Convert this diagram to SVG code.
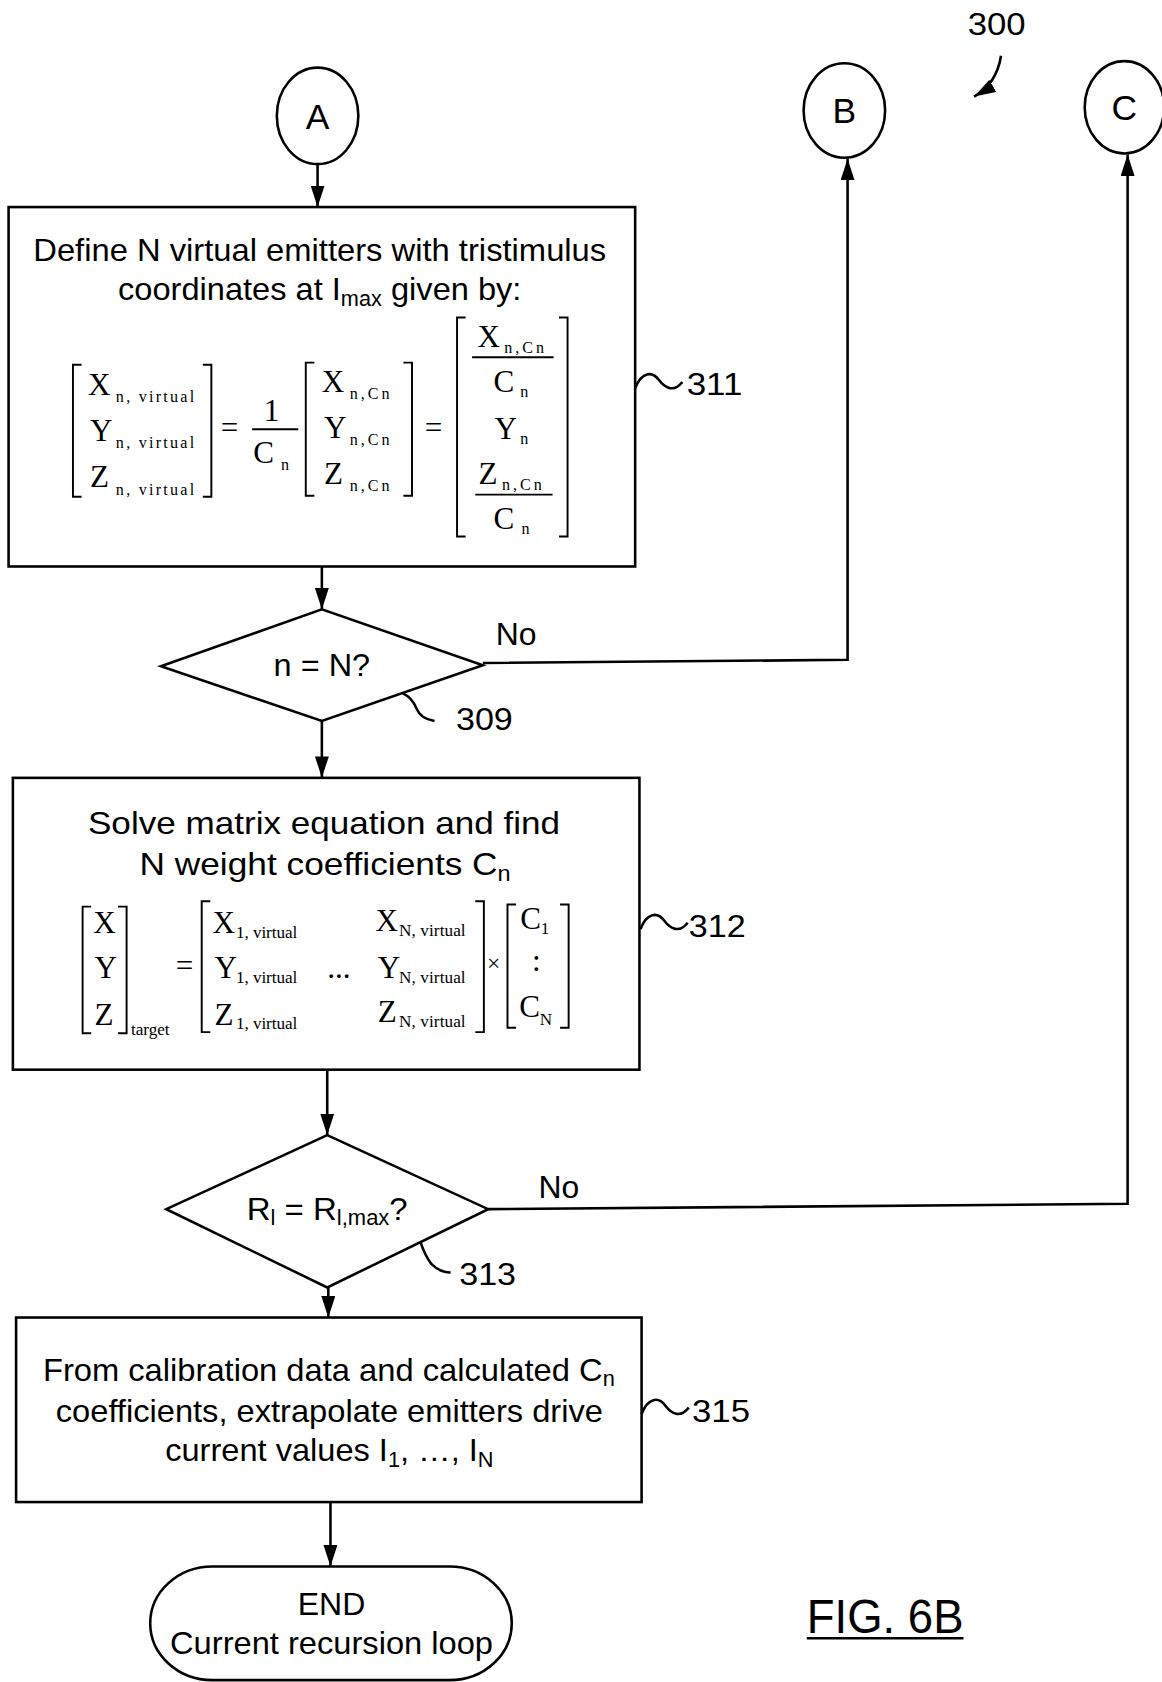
<svg xmlns="http://www.w3.org/2000/svg" width="1162" height="1682" viewBox="0 0 1162 1682">
<style>
.bg{fill:#fff}
.sh{fill:#fff;stroke:#000;stroke-width:2.4}
.ln{fill:none;stroke:#000;stroke-width:2.4}
.br{fill:none;stroke:#000;stroke-width:1.8}
.t{font-family:"Liberation Sans",Arial,sans-serif;font-size:30px;fill:#000}
.c{text-anchor:middle}
.m{font-family:"Liberation Serif","Times New Roman",serif;font-size:29px;fill:#000}
.s{font-family:"Liberation Serif","Times New Roman",serif;font-size:15px;letter-spacing:2px;fill:#000}
.v{font-family:"Liberation Serif","Times New Roman",serif;font-size:16px;fill:#000}
.lt{font-size:33px}
</style>
<defs>
<marker id="ah" markerUnits="userSpaceOnUse" markerWidth="20" markerHeight="13" refX="20" refY="6.5" orient="auto" viewBox="0 0 20 13">
<path d="M0,0 L20,6.5 L0,13 z" fill="#000"/>
</marker>
</defs>
<rect class="bg" x="0" y="0" width="1162" height="1682"/>
<g transform="scale(1.0729)">
<g id="connectors">
<line class="ln" x1="296" y1="153" x2="296" y2="193" marker-end="url(#ah)"/>
<line class="ln" x1="300" y1="528" x2="300" y2="568" marker-end="url(#ah)"/>
<polyline class="ln" points="450,618 790,615 790,148" marker-end="url(#ah)"/>
<line class="ln" x1="300" y1="672" x2="300" y2="725" marker-end="url(#ah)"/>
<line class="ln" x1="305" y1="997" x2="305" y2="1058" marker-end="url(#ah)"/>
<polyline class="ln" points="455,1127 1051,1122 1051,144" marker-end="url(#ah)"/>
<line class="ln" x1="306" y1="1200" x2="306" y2="1228" marker-end="url(#ah)"/>
<line class="ln" x1="308" y1="1400" x2="308" y2="1460" marker-end="url(#ah)"/>
<text class="t" x="462" y="601" textLength="38" lengthAdjust="spacingAndGlyphs">No</text>
<text class="t" x="502" y="1117" textLength="38" lengthAdjust="spacingAndGlyphs">No</text>
</g>
<g id="label-300">
<text class="t c" x="929" y="33" textLength="54" lengthAdjust="spacingAndGlyphs">300</text>
<path class="ln" d="M933,52 Q929,78 908,90" marker-end="url(#ah)"/>
</g>
<g id="node-A">
<ellipse class="sh" cx="296" cy="108" rx="38" ry="45"/>
<text class="t c lt" x="296" y="120">A</text>
</g>
<g id="node-B">
<ellipse class="sh" cx="787" cy="103" rx="38" ry="44"/>
<text class="t c lt" x="787" y="115">B</text>
</g>
<g id="node-C">
<ellipse class="sh" cx="1048" cy="100" rx="37" ry="43"/>
<text class="t c lt" x="1048" y="112">C</text>
</g>
<g id="node-311">
<rect class="sh" x="8" y="193" width="584" height="335"/>
<text class="t c" x="298" y="243" textLength="534" lengthAdjust="spacingAndGlyphs">Define N virtual emitters with tristimulus</text>
<text class="t" x="110" y="280" textLength="376" lengthAdjust="spacingAndGlyphs">coordinates at I<tspan font-size="20" dy="5">max</tspan><tspan dy="-5"> given by:</tspan></text>
<path class="br" d="M76,340 H68 V463 H76 M189,340 H197 V463 H189"/>
<text class="m" x="82" y="368">X</text><text class="s" x="108" y="375" textLength="75">n, virtual</text>
<text class="m" x="84" y="411">Y</text><text class="s" x="108" y="418" textLength="75">n, virtual</text>
<text class="m" x="84" y="454">Z</text><text class="s" x="108" y="461" textLength="75">n, virtual</text>
<text class="m c" x="214" y="408">=</text>
<text class="m c" x="253" y="392">1</text>
<line class="br" x1="235" y1="400" x2="278" y2="400"/>
<text class="m" x="236" y="432">C</text><text class="s" x="262" y="438">n</text>
<path class="br" d="M293,338 H285 V462 H293 M376,338 H384 V462 H376"/>
<text class="m" x="300" y="365">X</text><text class="s" x="326" y="372" textLength="39">n,Cn</text>
<text class="m" x="302" y="408">Y</text><text class="s" x="326" y="415" textLength="39">n,Cn</text>
<text class="m" x="302" y="451">Z</text><text class="s" x="326" y="458" textLength="39">n,Cn</text>
<text class="m c" x="404" y="408">=</text>
<path class="br" d="M434,296 H426 V500 H434 M521,296 H529 V500 H521"/>
<text class="m" x="445" y="323">X</text><text class="s" x="470" y="329" textLength="39">n,Cn</text>
<line class="br" x1="440" y1="333" x2="516" y2="333"/>
<text class="m" x="460" y="365">C</text><text class="s" x="485" y="370">n</text>
<text class="m" x="461" y="409">Y</text><text class="s" x="485" y="414">n</text>
<text class="m" x="446" y="451">Z</text><text class="s" x="468" y="457" textLength="39">n,Cn</text>
<line class="br" x1="443" y1="461" x2="515" y2="461"/>
<text class="m" x="460" y="493">C</text><text class="s" x="486" y="498">n</text>
<path class="ln" d="M592,362 C598,346 608,346 614,354 S628,366 636,356"/>
<text class="t" x="640" y="368" textLength="52" lengthAdjust="spacingAndGlyphs">311</text>
</g>
<g id="node-309">
<polygon class="sh" points="150,621 300,568 450,620 300,672"/>
<text class="t c" x="300" y="630" textLength="90" lengthAdjust="spacingAndGlyphs">n = N?</text>
<path class="ln" d="M375,646 Q384,650 388,660 Q392,670 405,672"/>
<text class="t" x="425" y="680" textLength="53" lengthAdjust="spacingAndGlyphs">309</text>
</g>
<g id="node-312">
<rect class="sh" x="12" y="725" width="584" height="272"/>
<text class="t c" x="302" y="777" textLength="440" lengthAdjust="spacingAndGlyphs">Solve matrix equation and find</text>
<text class="t" x="130" y="816" textLength="346" lengthAdjust="spacingAndGlyphs">N weight coefficients C<tspan font-size="20" dy="5">n</tspan></text>
<path class="br" d="M85,845 H77 V963 H85 M110,845 H118 V963 H110"/>
<text class="m" x="87" y="870">X</text>
<text class="m" x="88" y="912">Y</text>
<text class="m" x="88" y="955">Z</text>
<text class="v" x="122" y="965">target</text>
<text class="m c" x="172" y="910">=</text>
<path class="br" d="M196,840 H188 V962 H196 M443,840 H451 V962 H443"/>
<text class="m" x="198" y="870">X</text><text class="v" x="220" y="874" textLength="57">1, virtual</text>
<text class="m" x="350" y="868">X</text><text class="v" x="372" y="872" textLength="62">N, virtual</text>
<text class="m" x="200" y="912">Y</text><text class="v" x="220" y="916" textLength="57">1, virtual</text>
<text class="m" x="305" y="912">...</text>
<text class="m" x="352" y="912">Y</text><text class="v" x="372" y="916" textLength="62">N, virtual</text>
<text class="m" x="200" y="955">Z</text><text class="v" x="220" y="959" textLength="57">1, virtual</text>
<text class="m" x="352" y="953">Z</text><text class="v" x="372" y="957" textLength="62">N, virtual</text>
<text class="v c" x="460" y="905" style="font-size:22px">×</text>
<path class="br" d="M481,843 H473 V958 H481 M522,843 H530 V958 H522"/>
<text class="m" x="485" y="866">C</text><text class="v" x="504" y="871">1</text>
<text class="m c" x="500" y="905">:</text>
<text class="m" x="484" y="948">C</text><text class="v" x="503" y="955">N</text>
<path class="ln" d="M597,866 C603,850 613,850 619,858 S633,870 641,860"/>
<text class="t" x="642" y="873" textLength="53" lengthAdjust="spacingAndGlyphs">312</text>
</g>
<g id="node-313">
<polygon class="sh" points="155,1127 305,1058 455,1127 305,1200"/>
<text class="t" x="230" y="1137" textLength="150" lengthAdjust="spacingAndGlyphs">R<tspan font-size="20" dy="5">l</tspan><tspan dy="-5"> = R</tspan><tspan font-size="20" dy="5">l,max</tspan><tspan dy="-5">?</tspan></text>
<path class="ln" d="M392,1158 Q396,1170 402,1178 Q410,1186 420,1186"/>
<text class="t" x="428" y="1198" textLength="53" lengthAdjust="spacingAndGlyphs">313</text>
</g>
<g id="node-315">
<rect class="sh" x="15" y="1228" width="583" height="172"/>
<text class="t" x="40" y="1287" textLength="533" lengthAdjust="spacingAndGlyphs">From calibration data and calculated C<tspan font-size="20" dy="5">n</tspan></text>
<text class="t c" x="307" y="1325" textLength="510" lengthAdjust="spacingAndGlyphs">coefficients, extrapolate emitters drive</text>
<text class="t" x="154" y="1362" textLength="306" lengthAdjust="spacingAndGlyphs">current values I<tspan font-size="20" dy="5">1</tspan><tspan dy="-5">, …, I</tspan><tspan font-size="20" dy="5">N</tspan></text>
<path class="ln" d="M598,1318 C604,1302 614,1302 620,1310 S634,1322 642,1312"/>
<text class="t" x="645" y="1325" textLength="54" lengthAdjust="spacingAndGlyphs">315</text>
</g>
<g id="node-end">
<rect class="sh" x="140" y="1460" width="337" height="106" rx="58" ry="53"/>
<text class="t c" x="309" y="1505" textLength="63" lengthAdjust="spacingAndGlyphs">END</text>
<text class="t c" x="309" y="1542" textLength="301" lengthAdjust="spacingAndGlyphs">Current recursion loop</text>
</g>
<g id="caption">
<text class="t" x="752" y="1522" style="font-size:44px" textLength="146" lengthAdjust="spacingAndGlyphs">FIG. 6B</text>
<line x1="752" y1="1527" x2="898" y2="1527" stroke="#000" stroke-width="2.4"/>
</g>
</g>
</svg>
